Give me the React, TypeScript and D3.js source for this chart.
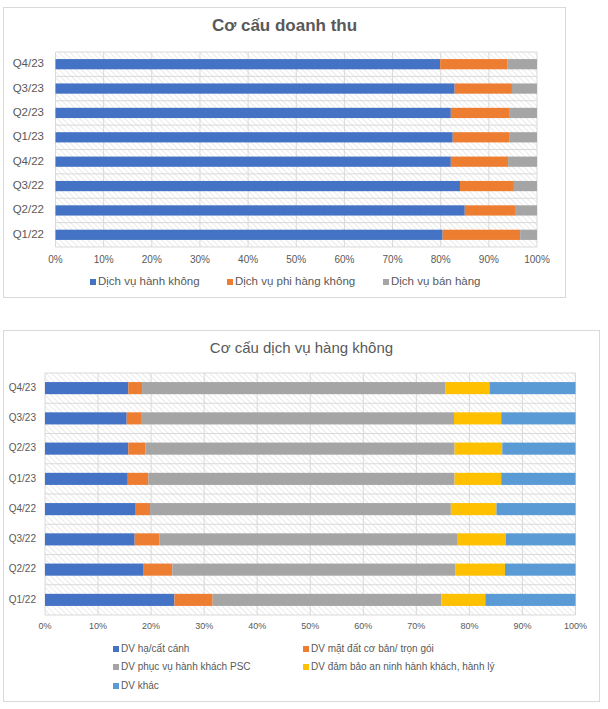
import React from "react";
import * as d3 from "d3";

const categories = ["Q1/22", "Q2/22", "Q3/22", "Q4/22", "Q1/23", "Q2/23", "Q3/23", "Q4/23"];

// Chart 1: Cơ cấu doanh thu (%)
const revSeriesNames = ["Dịch vụ hành không", "Dịch vụ phi hàng không", "Dịch vụ bán hàng"];
const revAviation = [80.4, 85.0, 84.0, 82.1, 82.5, 82.1, 82.9, 79.9];
const revNonAviation = [16.1, 10.6, 11.2, 11.9, 11.7, 12.1, 11.9, 13.9];
const revSales = [3.5, 4.4, 4.8, 6.0, 5.8, 5.8, 5.2, 6.2];

// Chart 2: Cơ cấu dịch vụ hàng không (%)
const avSeriesNames = [
  "DV hạ/cất cánh",
  "DV mặt đất cơ bản/ trọn gói",
  "DV phục vụ hành khách PSC",
  "DV đảm bảo an ninh hành khách, hành lý",
  "DV khác",
];
const avLanding = [24.4, 18.6, 16.9, 17.1, 15.6, 15.7, 15.4, 15.7];
const avGround = [7.2, 5.4, 4.7, 2.7, 3.9, 3.2, 2.7, 2.6];
const avPassenger = [43.1, 53.4, 56.2, 56.7, 57.7, 58.3, 59.0, 57.2];
const avSecurity = [8.3, 9.3, 9.1, 8.6, 8.8, 9.0, 8.9, 8.3];
const avOther = [17.0, 13.3, 13.1, 14.9, 14.0, 13.8, 14.0, 16.2];

const xTicks = [0, 10, 20, 30, 40, 50, 60, 70, 80, 90, 100];

const FONT = "'Liberation Sans', Arial, sans-serif";
const TEXT = "#595959";
const GRID = "#d9d9d9";

type LegendItem = { name: string; color: string; x: number; y: number };

function StackedChart(props: {
  id: string;
  frame: { x: number; y: number; w: number; h: number };
  title: string;
  titleY: number;
  titleSize: number;
  titleWeight: number;
  plot: { l: number; r: number; t: number; b: number };
  seriesValues: number[][];
  colors: string[];
  labelX: number;
  labelSize: number;
  tickY: number;
  tickSize: number;
  legendSize: number;
  legend: LegendItem[];
  padding: number;
}) {
  const { frame, plot, seriesValues, colors } = props;
  const x = d3.scaleLinear().domain([0, 100]).range([plot.l, plot.r]);
  const y = d3
    .scaleBand<string>()
    .domain([...categories].reverse())
    .range([plot.t, plot.b])
    .paddingInner(props.padding)
    .paddingOuter(props.padding / 2);
  const rows = categories.map((c, i) => {
    const obj: any = { cat: c };
    seriesValues.forEach((s, k) => (obj["s" + k] = s[i]));
    return obj;
  });
  const keys = seriesValues.map((_, k) => "s" + k);
  const stacked = d3.stack<any>().keys(keys)(rows);
  const step = y.step();
  const boundaries = d3.range(categories.length + 1).map((i) => plot.t + i * step);

  return (
    <g>
      <defs>
        <pattern
          id={props.id + "-hatch"}
          patternUnits="userSpaceOnUse"
          width={4}
          height={4}
          patternTransform="rotate(-45)"
        >
          <line x1={0} y1={0} x2={0} y2={4} stroke="#d9d9d9" strokeWidth={1.1} />
        </pattern>
      </defs>
      <rect x={frame.x} y={frame.y} width={frame.w} height={frame.h} fill="#fff" stroke={GRID} strokeWidth={1} />
      <text
        x={frame.x + frame.w / 2}
        y={props.titleY}
        textAnchor="middle"
        dominantBaseline="middle"
        fontFamily={FONT}
        fontSize={props.titleSize}
        fontWeight={props.titleWeight}
        fill={TEXT}
      >
        {props.title}
      </text>
      <rect x={plot.l} y={plot.t} width={plot.r - plot.l} height={plot.b - plot.t} fill={`url(#${props.id}-hatch)`} />
      {xTicks.map((t) => (
        <line key={"v" + t} x1={x(t)} x2={x(t)} y1={plot.t} y2={plot.b} stroke={GRID} strokeWidth={1} />
      ))}
      {boundaries.map((b, i) => (
        <line key={"h" + i} x1={plot.l} x2={plot.r} y1={b} y2={b} stroke={GRID} strokeWidth={1} />
      ))}
      {stacked.map((layer, k) => (
        <g key={layer.key}>
          {layer.map((d, i) => (
            <rect
              key={i}
              x={x(d[0])}
              y={y(categories[i])!}
              width={x(d[1]) - x(d[0])}
              height={y.bandwidth()}
              fill={colors[k]}
            />
          ))}
        </g>
      ))}
      {categories.map((c) => (
        <text
          key={c}
          x={props.labelX}
          y={y(c)! + y.bandwidth() / 2}
          textAnchor="end"
          dominantBaseline="middle"
          fontFamily={FONT}
          fontSize={props.labelSize}
          fill={TEXT}
        >
          {c}
        </text>
      ))}
      {xTicks.map((t) => (
        <text
          key={"t" + t}
          x={x(t)}
          y={props.tickY}
          textAnchor="middle"
          dominantBaseline="middle"
          fontFamily={FONT}
          fontSize={props.tickSize}
          fill={TEXT}
        >
          {t + "%"}
        </text>
      ))}
      {props.legend.map((it) => (
        <g key={it.name}>
          <rect x={it.x} y={it.y - 3} width={6} height={6} fill={it.color} />
          <text
            x={it.x + 8}
            y={it.y}
            dominantBaseline="middle"
            fontFamily={FONT}
            fontSize={props.legendSize}
            fill={TEXT}
          >
            {it.name}
          </text>
        </g>
      ))}
    </g>
  );
}

export default function App() {
  const c1 = ["#4472C4", "#ED7D31", "#A5A5A5"];
  const c2 = ["#4472C4", "#ED7D31", "#A5A5A5", "#FFC000", "#5B9BD5"];
  return (
    <svg
      width={608}
      height={709}
      style={{ position: "absolute", left: 0, top: 0, background: "#fff" }}
    >
      <rect x={0} y={0} width={608} height={709} fill="#fff" />
      <StackedChart
        id="c1"
        frame={{ x: 3.5, y: 7.5, w: 562, h: 290 }}
        title="Cơ cấu doanh thu"
        titleY={27}
        titleSize={17}
        titleWeight={700}
        plot={{ l: 55.5, r: 537, t: 52, b: 247 }}
        seriesValues={[revAviation, revNonAviation, revSales]}
        colors={c1}
        labelX={44}
        labelSize={11.5}
        tickY={260}
        tickSize={10}
        legendSize={11.5}
        padding={0.58}
        legend={[
          { name: revSeriesNames[0], color: c1[0], x: 90, y: 282 },
          { name: revSeriesNames[1], color: c1[1], x: 227, y: 282 },
          { name: revSeriesNames[2], color: c1[2], x: 383, y: 282 },
        ]}
      />
      <StackedChart
        id="c2"
        frame={{ x: 3.5, y: 330.5, w: 596, h: 371 }}
        title="Cơ cấu dịch vụ hàng không"
        titleY={349}
        titleSize={15}
        titleWeight={400}
        plot={{ l: 45, r: 575.5, t: 373, b: 615 }}
        seriesValues={[avLanding, avGround, avPassenger, avSecurity, avOther]}
        colors={c2}
        labelX={36}
        labelSize={10}
        tickY={627}
        tickSize={9}
        legendSize={10}
        padding={0.6}
        legend={[
          { name: avSeriesNames[0], color: c2[0], x: 113, y: 649 },
          { name: avSeriesNames[1], color: c2[1], x: 303, y: 649 },
          { name: avSeriesNames[2], color: c2[2], x: 113, y: 667 },
          { name: avSeriesNames[3], color: c2[3], x: 303, y: 667 },
          { name: avSeriesNames[4], color: c2[4], x: 113, y: 686 },
        ]}
      />
    </svg>
  );
}
